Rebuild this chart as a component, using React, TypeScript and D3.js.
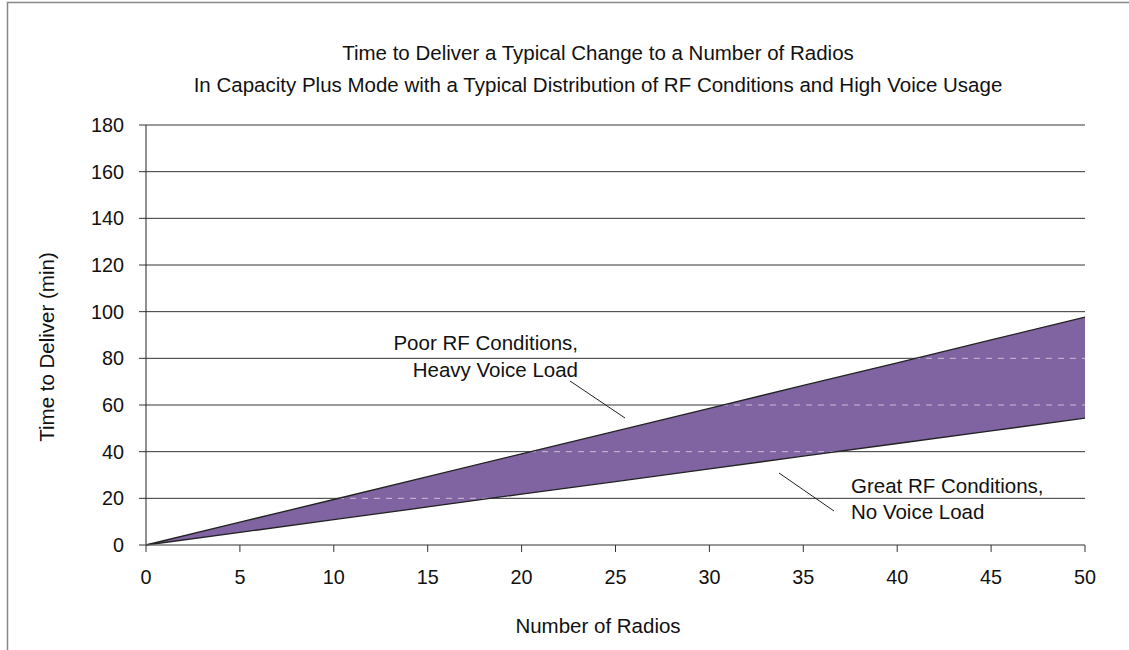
import React from "react";
import * as d3 from "d3";

const radios = [0, 5, 10, 15, 20, 25, 30, 35, 40, 45, 50];
const poorHeavy = [0, 9.8, 19.5, 29.3, 39.1, 48.8, 58.6, 68.4, 78.1, 87.9, 97.7];
const greatNone = [0, 5.4, 10.9, 16.3, 21.8, 27.2, 32.6, 38.1, 43.5, 48.9, 54.4];
const yTicks = [0, 20, 40, 60, 80, 100, 120, 140, 160, 180];
const xTicks = [0, 5, 10, 15, 20, 25, 30, 35, 40, 45, 50];
const titleLines = [
  "Time to Deliver a Typical Change to a Number of Radios",
  "In Capacity Plus Mode with a Typical Distribution of RF Conditions and High Voice Usage",
];
const annoPoor = ["Poor RF Conditions,", "Heavy Voice Load"];
const annoGreat = ["Great RF Conditions,", "No Voice Load"];

const W = 1129;
const H = 650;
const left = 146;
const right = 1085;
const top = 125;
const bottom = 545;
const font = "Liberation Sans, Arial, sans-serif";
const FS = 20.5;
const TFS = 19.8;

export default function App() {
  const x = d3.scaleLinear().domain([0, 50]).range([left, right]);
  const y = d3.scaleLinear().domain([0, 180]).range([bottom, top]);
  const pts = radios.map((r, i) => ({ r, hi: poorHeavy[i], lo: greatNone[i] }));
  const area = d3
    .area<{ r: number; hi: number; lo: number }>()
    .x((d) => x(d.r))
    .y0((d) => y(d.lo))
    .y1((d) => y(d.hi))(pts) as string;
  const hiLine = d3.line<{ r: number; hi: number }>().x((d) => x(d.r)).y((d) => y(d.hi))(pts) as string;
  const loLine = d3.line<{ r: number; lo: number }>().x((d) => x(d.r)).y((d) => y(d.lo))(pts) as string;

  return (
    <svg
      width={W}
      height={H}
      style={{ position: "absolute", left: 0, top: 0, display: "block" }}
      fontFamily={font}
    >
      <rect x={0} y={0} width={W} height={H} fill="#fff" />
      <rect x={7.5} y={2.5} width={1140} height={700} fill="none" stroke="#888" strokeWidth={1.5} />
      <defs>
        <clipPath id="bandClip">
          <path d={area} />
        </clipPath>
      </defs>
      {titleLines.map((t, i) => (
        <text key={i} x={598} y={60 + i * 32} textAnchor="middle" fontSize={FS} fill="#111">
          {t}
        </text>
      ))}
      {yTicks.map((v) => (
        <g key={v}>
          <line
            x1={left - 7}
            x2={right}
            y1={y(v)}
            y2={y(v)}
            stroke={v === 0 ? "#777" : "#333"}
            strokeWidth={1}
          />
          <text x={left - 22} y={y(v)} dy="0.35em" textAnchor="end" fontSize={TFS} fill="#111">
            {v}
          </text>
        </g>
      ))}
      <path d={area} fill="#8064A2" />
      <g clipPath="url(#bandClip)">
        {yTicks
          .filter((v) => v > 0)
          .map((v) => (
            <line
              key={v}
              x1={left}
              x2={right}
              y1={y(v)}
              y2={y(v)}
              stroke="#c8bcd6"
              strokeWidth={1}
              strokeDasharray="6,6"
            />
          ))}
      </g>
      <path d={hiLine} fill="none" stroke="#222" strokeWidth={1.3} />
      <path d={loLine} fill="none" stroke="#222" strokeWidth={1.3} />
      <line x1={left} x2={left} y1={top} y2={bottom} stroke="#222" strokeWidth={1} />
      <line x1={left - 7} x2={right} y1={bottom} y2={bottom} stroke="#777" strokeWidth={1.2} />
      {xTicks.map((v) => (
        <g key={v}>
          <line x1={x(v)} x2={x(v)} y1={bottom} y2={bottom + 7} stroke="#333" />
          <text x={x(v)} y={bottom + 32} dy="0.35em" textAnchor="middle" fontSize={TFS} fill="#111">
            {v}
          </text>
        </g>
      ))}
      <text x={598} y={633} textAnchor="middle" fontSize={FS} fill="#111">
        Number of Radios
      </text>
      <text
        transform={`translate(54,${347}) rotate(-90)`}
        textAnchor="middle"
        fontSize={FS}
        fill="#111"
      >
        Time to Deliver (min)
      </text>
      {annoPoor.map((t, i) => (
        <text key={i} x={578} y={350 + i * 27} textAnchor="end" fontSize={FS} fill="#111">
          {t}
        </text>
      ))}
      <line x1={570} y1={381} x2={625} y2={418} stroke="#222" strokeWidth={1} />
      {annoGreat.map((t, i) => (
        <text key={i} x={851} y={493 + i * 26} textAnchor="start" fontSize={FS} fill="#111">
          {t}
        </text>
      ))}
      <line x1={779} y1={473} x2={834} y2={511} stroke="#222" strokeWidth={1} />
    </svg>
  );
}
